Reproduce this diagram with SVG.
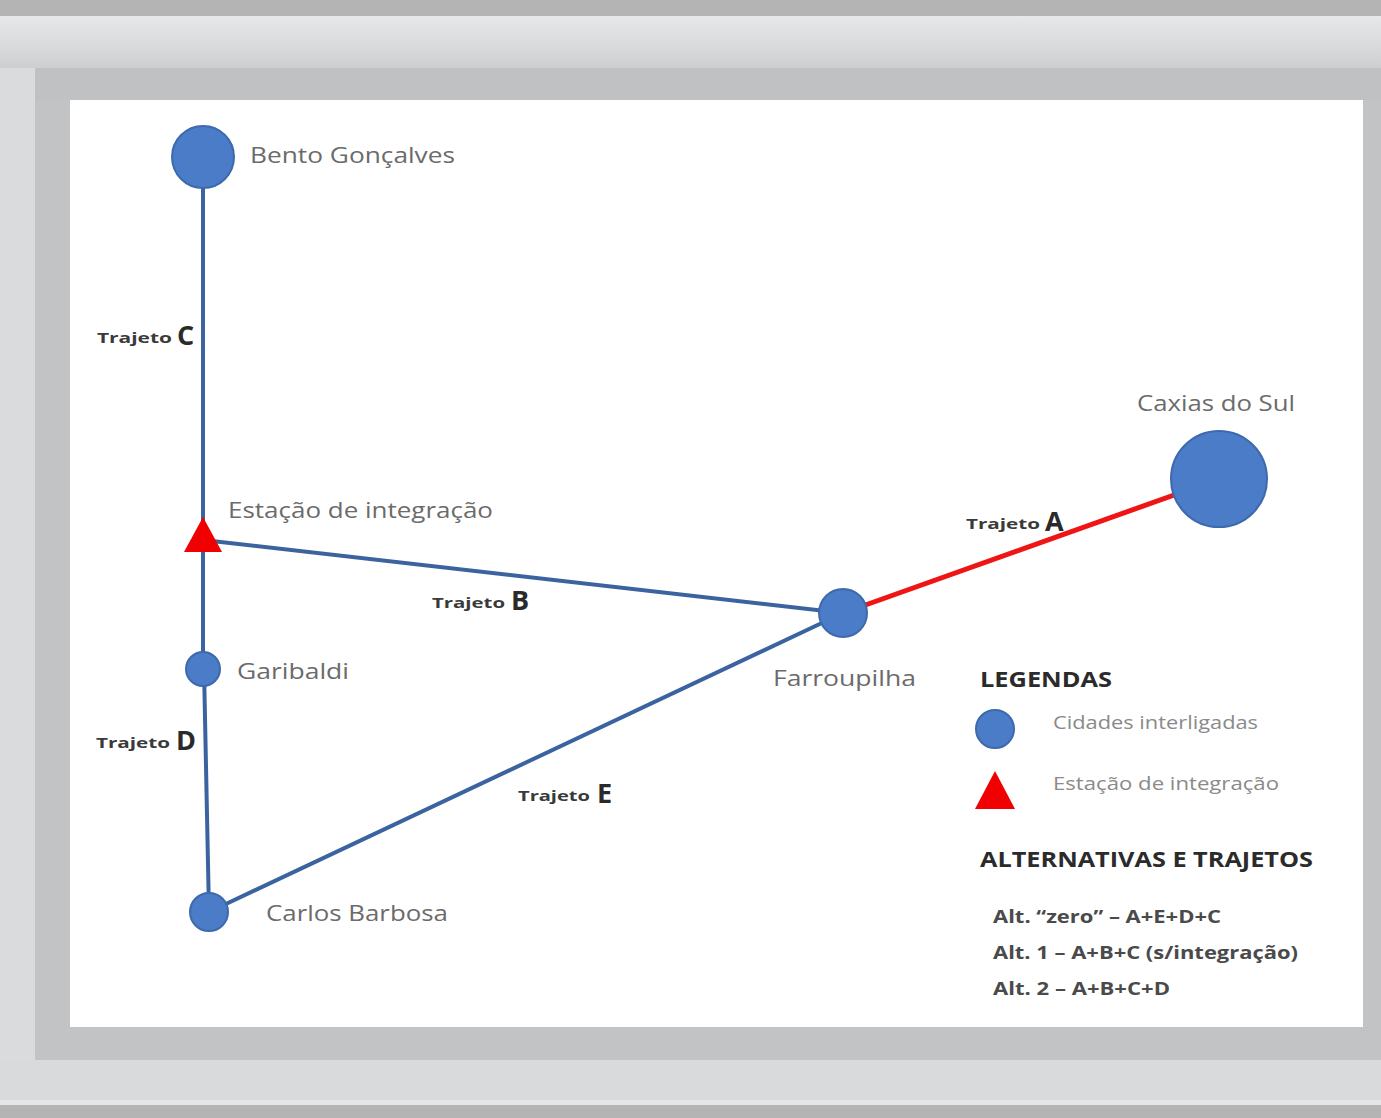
<svg xmlns="http://www.w3.org/2000/svg" width="1381" height="1118" viewBox="0 0 1381 1118">
<defs>
<style>
.city{fill:#4a7cc7;stroke:#3d69ad;stroke-width:2}
.tri{fill:#f00000}
.edge{stroke:#3a63a0;stroke-width:4;fill:none;stroke-linecap:round}
.red{stroke:#f01515;stroke-width:5;fill:none}
.lbl{font-family:"Open Sans","Liberation Sans",sans-serif;font-size:22px;fill:#6b6b6b}
.tr{font-family:"Open Sans","Liberation Sans",sans-serif;font-size:15px;font-weight:bold;fill:#3a3a3a}
.let{font-family:"Open Sans","Liberation Sans",sans-serif;font-size:27px;font-weight:bold;fill:#2a2a2a}
.hd{font-family:"Open Sans","Liberation Sans",sans-serif;font-size:22px;font-weight:bold;fill:#2b2b2b}
.li{font-family:"Open Sans","Liberation Sans",sans-serif;font-size:18px;fill:#8a8a8a}
.alt{font-family:"Open Sans","Liberation Sans",sans-serif;font-size:18px;font-weight:bold;fill:#4a4a4a}
</style>
<linearGradient id="topg" x1="0" y1="0" x2="0" y2="1">
<stop offset="0" stop-color="#e6e8ea"/><stop offset="1" stop-color="#cdcfd1"/>
</linearGradient>
</defs>
<!-- frame -->
<rect x="0" y="0" width="1381" height="1118" fill="#d9dbdd"/>
<rect x="0" y="16" width="1381" height="52" fill="url(#topg)"/>
<rect x="35" y="68" width="1346" height="992" fill="#c1c3c5"/>
<rect x="35" y="68" width="1346" height="32" fill="#bfc1c3"/>
<rect x="0" y="1060" width="1381" height="45" fill="#d8dadc"/>
<rect x="0" y="1100" width="1381" height="5" fill="#e4e6e8"/>
<rect x="0" y="0" width="1381" height="16" fill="#b4b4b4"/>
<rect x="0" y="1105" width="1381" height="13" fill="#b4b4b4"/>
<rect x="70" y="100" width="1293" height="927" fill="#ffffff"/>

<g id="connectors">
<line class="edge" x1="203" y1="157" x2="203" y2="669"/>
<line class="edge" x1="204" y1="669" x2="209" y2="912"/>
<line class="edge" x1="203" y1="540" x2="843" y2="613"/>
<line class="edge" x1="209" y1="912" x2="843" y2="613"/>
<line class="red" x1="843" y1="613" x2="1219" y2="479"/>
</g>

<g id="trajeto-labels">
<text class="tr" x="97" y="343" textLength="75" lengthAdjust="spacingAndGlyphs">Trajeto</text>
<text class="let" x="177" y="345">C</text>
<text class="tr" x="432" y="608" textLength="73" lengthAdjust="spacingAndGlyphs">Trajeto</text>
<text class="let" x="511" y="610">B</text>
<text class="tr" x="96" y="748" textLength="74" lengthAdjust="spacingAndGlyphs">Trajeto</text>
<text class="let" x="176" y="750">D</text>
<text class="tr" x="518" y="801" textLength="72" lengthAdjust="spacingAndGlyphs">Trajeto</text>
<text class="let" x="597" y="803">E</text>
<text class="tr" x="966" y="529" textLength="74" lengthAdjust="spacingAndGlyphs">Trajeto</text>
<text class="let" x="1045" y="531">A</text>
</g>

<g id="bento">
<circle class="city" cx="203" cy="157" r="31"/>
<text class="lbl" x="250" y="163" textLength="205" lengthAdjust="spacingAndGlyphs">Bento Gonçalves</text>
</g>
<g id="estacao">
<polygon class="tri" points="203,517 222,552 184,552"/>
<text class="lbl" x="228" y="518" textLength="265" lengthAdjust="spacingAndGlyphs">Estação de integração</text>
</g>
<g id="garibaldi">
<circle class="city" cx="203" cy="669" r="17"/>
<text class="lbl" x="237" y="679" textLength="112" lengthAdjust="spacingAndGlyphs">Garibaldi</text>
</g>
<g id="carlos-barbosa">
<circle class="city" cx="209" cy="912" r="19"/>
<text class="lbl" x="266" y="921" textLength="182" lengthAdjust="spacingAndGlyphs">Carlos Barbosa</text>
</g>
<g id="farroupilha">
<circle class="city" cx="843" cy="613" r="24"/>
<text class="lbl" x="773" y="686" textLength="143" lengthAdjust="spacingAndGlyphs">Farroupilha</text>
</g>
<g id="caxias">
<circle class="city" cx="1219" cy="479" r="48"/>
<text class="lbl" x="1137" y="411" textLength="158" lengthAdjust="spacingAndGlyphs">Caxias do Sul</text>
</g>

<g id="legend">
<text class="hd" x="980" y="687" textLength="132" lengthAdjust="spacingAndGlyphs">LEGENDAS</text>
<circle class="city" cx="995" cy="729" r="19"/>
<text class="li" x="1053" y="729" textLength="205" lengthAdjust="spacingAndGlyphs">Cidades interligadas</text>
<polygon class="tri" points="995,771 1015,809 975,809"/>
<text class="li" x="1053" y="790" textLength="226" lengthAdjust="spacingAndGlyphs">Estação de integração</text>
<text class="hd" x="980" y="867" textLength="333" lengthAdjust="spacingAndGlyphs">ALTERNATIVAS E TRAJETOS</text>
<text class="alt" x="993" y="923" textLength="228" lengthAdjust="spacingAndGlyphs">Alt. “zero” – A+E+D+C</text>
<text class="alt" x="993" y="959" textLength="305" lengthAdjust="spacingAndGlyphs">Alt. 1 – A+B+C (s/integração)</text>
<text class="alt" x="993" y="995" textLength="177" lengthAdjust="spacingAndGlyphs">Alt. 2 – A+B+C+D</text>
</g>
</svg>
